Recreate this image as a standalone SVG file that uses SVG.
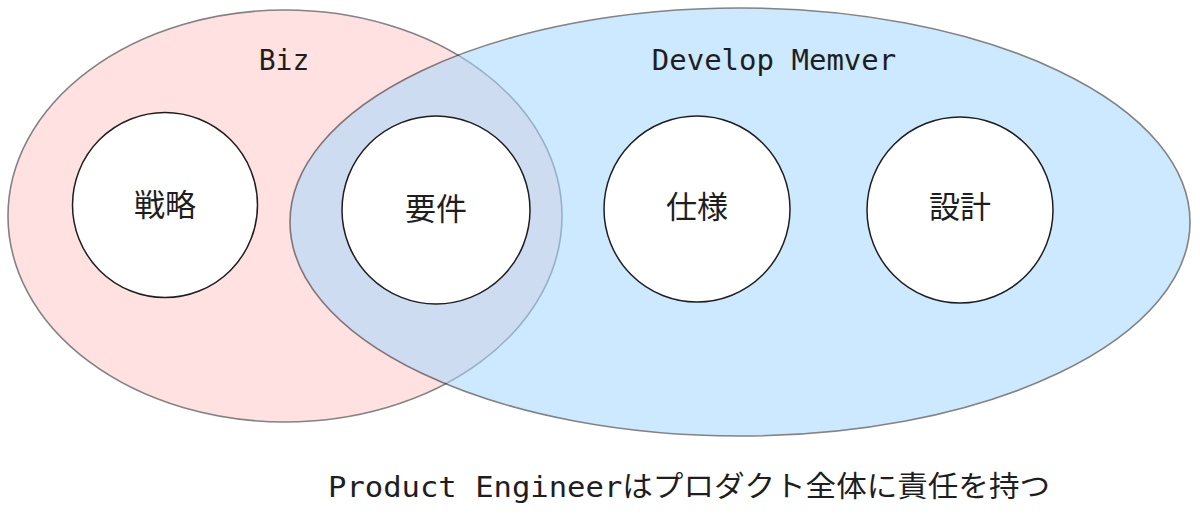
<svg xmlns="http://www.w3.org/2000/svg" width="1200" height="515" viewBox="0 0 1200 515">
  <style>
    .set { stroke: #1e1e1e; stroke-width: 1.6; opacity: 0.55; }
    .node { fill: #ffffff; stroke: #1e1e1e; stroke-width: 1.5; }
    .mono { font-family: "DejaVu Sans Mono", "Liberation Mono", "Noto Sans CJK JP", monospace; fill: #1e1e1e; }
    .jp { font-family: "Noto Sans CJK JP", "Noto Sans", sans-serif; fill: #1e1e1e; font-size: 31px; text-anchor: middle; }
  </style>
  <rect width="1200" height="515" fill="#ffffff"/>
  <g id="set-biz">
    <ellipse class="set" cx="285" cy="216" rx="277" ry="206" fill="#ffc9c9"/>
    <text class="mono" x="284" y="70" font-size="28" text-anchor="middle">Biz</text>
  </g>
  <g id="set-dev">
    <ellipse class="set" cx="740" cy="222" rx="450" ry="214" fill="#a5d8ff"/>
    <text class="mono" x="774" y="70" font-size="29" text-anchor="middle">Develop Memver</text>
  </g>
  <g id="connectors"></g>
  <g id="node-senryaku">
    <circle class="node" cx="165" cy="205" r="92.5"/>
    <text class="jp" x="165" y="216">戦略</text>
  </g>
  <g id="node-youken">
    <circle class="node" cx="436" cy="210" r="94"/>
    <text class="jp" x="436" y="220">要件</text>
  </g>
  <g id="node-shiyou">
    <circle class="node" cx="697" cy="209" r="93"/>
    <text class="jp" x="697" y="218">仕様</text>
  </g>
  <g id="node-sekkei">
    <circle class="node" cx="960" cy="210" r="93"/>
    <text class="jp" x="960" y="218">設計</text>
  </g>
  <g id="caption">
    <text x="328" y="497" font-size="29" class="mono" textLength="722" lengthAdjust="spacingAndGlyphs">Product Engineer<tspan font-family="Noto Sans CJK JP, sans-serif">はプロダクト全体に責任を持つ</tspan></text>
  </g>
</svg>
